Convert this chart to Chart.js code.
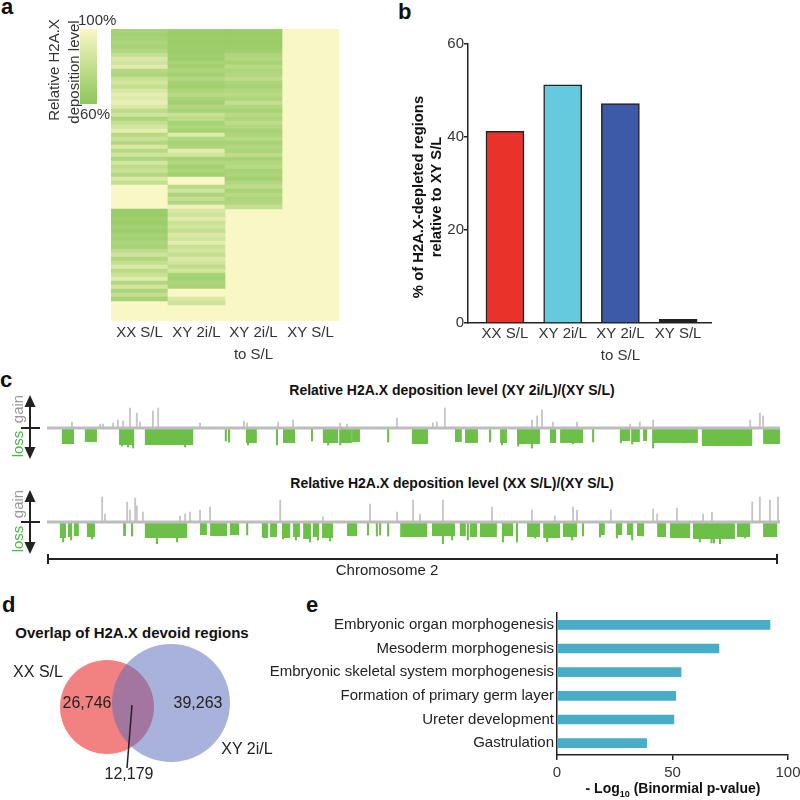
<!DOCTYPE html>
<html lang="en">
<head>
<meta charset="UTF-8">
<title>H2A.X deposition</title>
<script src="https://cdn.jsdelivr.net/npm/chart.js"></script>
<style>
  body { margin: 0; width: 800px; height: 800px; position: relative; overflow: hidden; background: #fff;
         font-family: 'Liberation Sans', Arial, sans-serif; color: #222; }
  .box { position: absolute; }
  .t { position: absolute; white-space: nowrap; line-height: 1; font-size: 15px; }
  .c { transform: translate(-50%, -50%); }
  .l { transform: translateY(-50%); }
  .rot { transform: translate(-50%, -50%) rotate(-90deg); }
  .letter { position: absolute; font-weight: bold; font-size: 22px; line-height: 1; color: #111; }
  .bold { font-weight: bold; font-size: 14px; color: #111; }
</style>
</head>
<body>
  <!-- panel letters -->
  <div class="letter" style="left:1px;top:-4px">a</div>
  <div class="letter" style="left:398px;top:1px">b</div>
  <div class="letter" style="left:0px;top:369px">c</div>
  <div class="letter" style="left:2px;top:594px">d</div>
  <div class="letter" style="left:306px;top:594px">e</div>

  <!-- a: heatmap -->
  <div class="box" style="left:0;top:0;width:400px;height:370px"><canvas id="heatChart"></canvas></div>
  <div class="t l" style="left:78px;top:19px;color:#333">100%</div>
  <div class="t l" style="left:80px;top:113px;color:#333">60%</div>
  <div class="t rot" style="left:53px;top:70px;color:#333">Relative H2A.X</div>
  <div class="t rot" style="left:73px;top:72px;color:#333">deposition level</div>

  <!-- b: bar chart -->
  <div class="box" style="left:400px;top:0;width:400px;height:370px"><canvas id="barChart"></canvas></div>
  <div class="t rot bold" style="left:418px;top:197px;font-size:14.8px">% of H2A.X-depleted regions</div>
  <div class="t rot bold" style="left:436px;top:197px;font-size:14.8px">relative to XY S/L</div>

  <!-- c: tracks -->
  <div class="t c bold" style="left:452px;top:390px">Relative H2A.X deposition level (XY 2i/L)/(XY S/L)</div>
  <div class="t c bold" style="left:452px;top:483px">Relative H2A.X deposition level (XX S/L)/(XY S/L)</div>
  <div class="box" style="left:0;top:400px;width:800px;height:56px"><canvas id="track1"></canvas></div>
  <div class="box" style="left:0;top:494px;width:800px;height:56px"><canvas id="track2"></canvas></div>
  <div class="t rot" style="left:17px;top:409px;color:#999">gain</div>
  <div class="t rot" style="left:17px;top:444px;color:#4db848">loss</div>
  <div class="t rot" style="left:17px;top:504px;color:#999">gain</div>
  <div class="t rot" style="left:17px;top:539px;color:#4db848">loss</div>
  <svg class="box" style="left:0;top:390px" width="50" height="180">
    <g stroke="#222" stroke-width="2" fill="#222">
      <line x1="30" y1="12" x2="30" y2="62"/>
      <line x1="21" y1="38" x2="40" y2="38"/>
      <polygon points="30,5 24.5,17 35.5,17" stroke="none"/>
      <polygon points="30,69 24.5,57 35.5,57" stroke="none"/>
      <line x1="30" y1="107" x2="30" y2="157"/>
      <line x1="21" y1="132" x2="40" y2="132"/>
      <polygon points="30,100 24.5,112 35.5,112" stroke="none"/>
      <polygon points="30,164 24.5,152 35.5,152" stroke="none"/>
    </g>
  </svg>
  <svg class="box" style="left:0;top:550px" width="800" height="20">
    <g stroke="#222" stroke-width="2">
      <line x1="48" y1="9" x2="777" y2="9"/>
      <line x1="48" y1="4" x2="48" y2="14"/>
      <line x1="777" y1="4" x2="777" y2="14"/>
    </g>
  </svg>
  <div class="t c" style="left:387px;top:569px">Chromosome 2</div>

  <!-- d: venn -->
  <div class="t c bold" style="left:132px;top:632px;font-size:15px">Overlap of H2A.X devoid regions</div>
  <div class="box" style="left:0;top:630px;width:300px;height:150px"><canvas id="vennChart"></canvas></div>
  <div id="vennText"></div>
  <svg class="box" style="left:0;top:630px" width="300" height="150">
    <line x1="132" y1="75" x2="127" y2="138" stroke="#222" stroke-width="1.5"/>
  </svg>

  <!-- e: horizontal bars -->
  <div class="box" style="left:200px;top:600px;width:600px;height:200px"><canvas id="goChart"></canvas></div>
  <div class="t c bold" style="left:673px;top:790px">- Log<sub style="font-size:9px">10</sub> (Binormial p-value)</div>

<script>
// ---- data ----
// a: relative H2A.X deposition (%) per 4px row, top to bottom; rows not listed are 100%
var heatColumns = ['XX S/L', 'XY 2i/L', ['XY 2i/L', 'to S/L'], 'XY S/L'];
var heatRowCount = 73;
var heatXXSL = [70, 68, 70, 72, 70, 74, 80, 88, 84, 90, 75, 72, 82, 86, 80, 88, 92, 90, 94, 88,
                78, 84, 72, 80, 86, 92, 76, 82, 74, 88, 76, 84, 72, 86, 78, 82, 74, 88, 80,
                100, 100, 100, 100, 100, 100,
                66, 65, 67, 66, 68, 66, 70, 68, 72, 70,
                78, 84, 74, 80, 88, 76, 82, 90, 74, 86, 72, 80, 70];
var heatXY2iL = [66, 65, 66, 65, 66, 66, 67, 66,
                 70, 68, 72, 68, 74, 70, 68, 72, 76, 70, 68, 74, 70, 82, 78, 70, 72, 68,
                 90, 74, 70, 72, 92, 86, 70, 74, 68, 72, 68, 100, 100,
                 76, 84, 72, 80, 74, 96,
                 88, 84, 90, 82, 86, 80, 88, 84, 92, 82, 86, 80, 88, 84, 78, 86,
                 70, 68, 72, 70, 100, 100, 88, 84];
var heatXY2iLtoSL = [66, 65, 66, 65, 66, 67,
                     72, 74, 70, 76, 72, 74, 78, 72, 70, 74, 76, 72, 80, 74, 70, 76, 72, 78, 74, 70,
                     72, 76, 70, 74, 72, 78, 70, 74, 76, 70, 72, 68, 74, 78, 70, 76, 72, 74, 80];
var heatXYSL = [];

// b: % of H2A.X-depleted regions relative to XY S/L
var barLabels = ['XX S/L', 'XY 2i/L', ['XY 2i/L', 'to S/L'], 'XY S/L'];
var barValues = [41.2, 51.2, 47.2, 0.8];

// c: chromosome 2 tracks (position in Mb, loss depth / gain height in track units)
var chromLength = 182;
var t1LossStart = [3.7, 9.4, 17.9, 24.3, 49.4, 58.6, 68.5, 73.0, 76.2, 90.6, 101.3, 103.8, 112.5, 116.7, 124.9, 127.4, 142.5, 145.5, 148.0, 150.5, 162.6, 177.8];
var t1LossEnd   = [6.7, 12.4, 21.6, 36.3, 52.1, 61.6, 72.3, 75.7, 77.7, 94.6, 103.0, 107.0, 114.2, 122.4, 126.4, 133.1, 144.8, 147.2, 149.0, 161.6, 175.1, 182.0];
var t1LossDepth = [16, 14, 17, 17, 15, 15, 15, 15, 14, 16, 14, 15, 15, 16, 15, 15, 13, 14, 13, 15, 18, 16];
var t1LineX     = [18.6, 20.1, 21.4, 34.3, 44.4, 45.2, 49.9, 57.1, 65.8, 69.8, 72.8, 76.0, 84.7, 110.0, 113.0, 117.0, 120.4, 125.4, 130.6, 135.6, 142.5, 145.3, 150.5, 158.4, 166.4];
var t1LineDepth = [18, 19, 20, 19, 13, 14, 17, 17, 13, 17, 17, 14, 14, 14, 17, 18, 20, 14, 16, 14, 15, 16, 20, 15, 18];
var t1GainX      = [6.2, 13.2, 13.9, 16.4, 17.6, 18.9, 20.6, 22.3, 23.1, 26.3, 27.6, 38.0, 48.9, 49.7, 57.4, 61.1, 72.8, 74.5, 86.9, 95.8, 96.8, 98.8, 120.4, 121.7, 122.9, 125.6, 131.6, 144.8, 147.2, 150.5, 174.6, 177.0, 177.8];
var t1GainHeight = [6, 4, 4, 5, 8, 7, 20, 15, 6, 17, 20, 5, 7, 5, 6, 8, 5, 4, 10, 5, 6, 20, 8, 12, 18, 6, 6, 4, 6, 8, 8, 15, 12];

var t2LossStart = [3.2, 5.2, 6.7, 9.9, 18.9, 24.3, 38.0, 40.5, 45.4, 53.6, 55.4, 58.6, 61.1, 63.6, 66.0, 68.3, 74.5, 87.7, 95.6, 102.5, 105.0, 107.5, 113.2, 119.2, 123.2, 128.1, 137.3, 141.5, 144.0, 146.5, 151.5, 154.7, 160.4, 171.3, 177.8];
var t2LossEnd   = [4.7, 6.2, 7.9, 11.9, 19.6, 34.8, 39.7, 44.7, 47.7, 54.9, 57.1, 60.4, 62.8, 65.3, 67.3, 71.0, 77.0, 94.4, 101.3, 104.0, 106.8, 111.7, 115.7, 122.4, 127.4, 131.6, 138.5, 142.8, 145.3, 148.0, 153.7, 159.7, 170.8, 174.6, 181.3];
var t2LossDepth = [16, 15, 14, 15, 14, 16, 13, 14, 13, 16, 15, 16, 15, 17, 15, 16, 14, 15, 14, 14, 15, 15, 14, 15, 16, 15, 13, 13, 13, 14, 15, 16, 17, 15, 15];
var t2LineX     = [4.0, 6.0, 11.2, 21.1, 27.3, 32.3, 49.7, 53.6, 58.6, 61.8, 65.3, 67.3, 70.3, 79.7, 81.9, 82.7, 84.7, 90.1, 98.3, 100.6, 104.5, 108.8, 113.2, 116.7, 121.2, 124.2, 130.4, 133.1, 137.3, 141.5, 145.3, 148.0, 162.1, 165.0, 165.6, 167.1, 173.3];
var t2LineDepth = [20, 18, 17, 14, 26, 20, 13, 15, 17, 18, 20, 18, 19, 13, 14, 13, 14, 14, 26, 18, 18, 15, 20, 20, 16, 20, 18, 14, 15, 16, 18, 14, 20, 21, 21, 22, 16];
var t2GainX      = [13.7, 14.4, 19.9, 20.6, 21.9, 22.3, 23.8, 33.0, 34.3, 35.5, 38.0, 40.5, 57.9, 68.5, 80.2, 86.9, 90.9, 92.6, 98.3, 110.5, 120.4, 126.1, 130.6, 131.6, 140.0, 150.5, 151.5, 156.4, 162.9, 165.1, 175.1, 177.0, 179.5, 181.5];
var t2GainHeight = [25, 8, 20, 12, 24, 16, 10, 6, 8, 10, 12, 15, 22, 5, 18, 10, 22, 8, 22, 15, 12, 6, 15, 12, 12, 13, 8, 14, 8, 10, 20, 25, 22, 25];

// d: overlap of H2A.X devoid regions
var vennSets = ['XX S/L', 'XY 2i/L'];
var vennOnly = [26746, 39263];
var vennShared = 12179;

// e: GO terms
var goTerms = ['Embryonic organ morphogenesis', 'Mesoderm morphogenesis', 'Embryonic skeletal system morphogenesis',
               'Formation of primary germ layer', 'Ureter development', 'Gastrulation'];
var goValues = [92.2, 70.1, 53.7, 51.4, 50.6, 38.8];

// ---- styles / layout ----
var FONT = "'Liberation Sans', Arial, sans-serif";
var GREEN = '#6cbf47';
var barColors = ['#e8322a', '#66cadf', '#3d5aa9', '#222222'];
var vennColors = ['rgba(240,112,112,0.88)', 'rgba(88,108,184,0.52)'];
var vennCenterX = [107, 171], vennCenterY = [77, 73], vennRadius = [47, 59];

Chart.defaults.font.family = FONT;
Chart.defaults.animation = false;
Chart.defaults.events = [];
Chart.defaults.plugins.legend.display = false;
Chart.defaults.plugins.tooltip.enabled = false;

function heatColor(v) {
    var t = Math.max(0, Math.min(1, (100 - v) / 40));
    var lo = [249, 247, 197], hi = [141, 198, 91];
    var c = lo.map(function (a, i) { return Math.round(a + (hi[i] - a) * t); });
    return 'rgb(' + c.join(',') + ')';
}

// ---- a: heatmap ----
var heatCells = [], heatCellColors = [];
[heatXXSL, heatXY2iL, heatXY2iLtoSL, heatXYSL].forEach(function (col, c) {
    col.forEach(function (v, r) {
        heatCells.push({ x: c, y: [r, r + 1] });
        heatCellColors.push(heatColor(v));
    });
});

var colorBar = {
    id: 'colorBar',
    afterDraw: function (chart) {
        var ctx = chart.ctx;
        var g = ctx.createLinearGradient(0, 29, 0, 104);
        g.addColorStop(0, heatColor(100));
        g.addColorStop(1, heatColor(60));
        ctx.save();
        ctx.fillStyle = g;
        ctx.fillRect(80, 29, 17, 75);
        ctx.restore();
    }
};

new Chart(document.getElementById('heatChart'), {
    type: 'bar',
    data: {
        datasets: [
            { data: heatCells, backgroundColor: heatCellColors },
            { data: heatColumns.map(function (_, c) { return { x: c, y: [0, heatRowCount] }; }),
              backgroundColor: heatColor(100) }
        ]
    },
    options: {
        responsive: true, maintainAspectRatio: false,
        layout: { padding: { left: 111, right: 61, top: 29, bottom: 4 } },
        datasets: { bar: { grouped: false, barThickness: 57, borderWidth: 0 } },
        scales: {
            x: {
                type: 'linear', offset: false, min: -0.5, max: 3.5,
                grid: { display: false, drawTicks: false }, border: { display: false },
                afterBuildTicks: function (s) { s.ticks = heatColumns.map(function (_, i) { return { value: i }; }); },
                ticks: { color: '#333', font: { size: 15, lineHeight: 1.45 }, padding: 1, maxRotation: 0, autoSkip: false,
                         callback: function (v) { return heatColumns[v]; } },
                afterFit: function (s) { s.height = 45; s.paddingLeft = 0; s.paddingRight = 0; }
            },
            y: { display: false, min: 0, max: heatRowCount, reverse: true }
        }
    },
    plugins: [colorBar]
});

// ---- b: bar chart ----
new Chart(document.getElementById('barChart'), {
    type: 'bar',
    data: {
        datasets: [{
            data: barValues.map(function (v, i) { return { x: i, y: v }; }),
            backgroundColor: barColors, borderColor: '#222', borderWidth: 1.5, barThickness: 38
        }]
    },
    options: {
        responsive: true, maintainAspectRatio: false,
        layout: { padding: { left: 0, right: 89, top: 44, bottom: 2 } },
        scales: {
            x: {
                type: 'linear', offset: false, min: -0.64, max: 3.57,
                grid: { display: false, drawTicks: false },
                border: { display: true, color: '#222', width: 1.5 },
                afterBuildTicks: function (s) { s.ticks = barLabels.map(function (_, i) { return { value: i }; }); },
                ticks: { color: '#333', font: { size: 15, lineHeight: 1.45 }, padding: 0, maxRotation: 0, autoSkip: false,
                         callback: function (v) { return barLabels[v]; } },
                afterFit: function (s) { s.height = 45; s.paddingLeft = 0; s.paddingRight = 0; }
            },
            y: {
                min: 0, max: 60,
                grid: { display: true, drawOnChartArea: false, drawTicks: true, tickLength: 4, color: '#222', lineWidth: 1.5 },
                border: { display: true, color: '#222', width: 1.5 },
                ticks: { stepSize: 20, color: '#333', font: { size: 15 }, padding: 0 },
                afterFit: function (s) { s.width = 68; }
            }
        }
    }
});

// ---- c: tracks ----
function makeTrack(id, lossStart, lossEnd, lossDepth, lineX, lineDepth, gainX, gainHeight) {
    var blocks = [{ x: 0, y: 0 }];
    lossStart.forEach(function (s, i) {
        blocks.push({ x: s, y: 0 }, { x: s, y: -lossDepth[i] }, { x: lossEnd[i], y: -lossDepth[i] }, { x: lossEnd[i], y: 0 });
    });
    blocks.push({ x: chromLength, y: 0 });
    new Chart(document.getElementById(id), {
        type: 'bar',
        data: {
            datasets: [
                { type: 'line', order: 0, data: [{ x: 0, y: 0 }, { x: chromLength, y: 0 }],
                  borderColor: '#bdbdbd', borderWidth: 3, pointRadius: 0 },
                { type: 'line', order: 2, data: blocks, fill: 'origin', backgroundColor: GREEN,
                  borderColor: 'rgba(0,0,0,0)', borderWidth: 1, pointRadius: 0, tension: 0 },
                { order: 1, data: lineX.map(function (x, i) { return { x: x, y: -lineDepth[i] }; }),
                  backgroundColor: GREEN, barThickness: 1.4, grouped: false },
                { order: 1, data: gainX.map(function (x, i) { return { x: x, y: gainHeight[i] }; }),
                  backgroundColor: '#c6c6c6', barThickness: 1.2, grouped: false }
            ]
        },
        options: {
            responsive: true, maintainAspectRatio: false,
            layout: { padding: { left: 47, right: 20, top: 2, bottom: 6 } },
            scales: {
                x: { type: 'linear', offset: false, min: 0, max: chromLength, display: false },
                y: { min: -22, max: 26, display: false }
            }
        }
    });
}
makeTrack('track1', t1LossStart, t1LossEnd, t1LossDepth, t1LineX, t1LineDepth, t1GainX, t1GainHeight);
makeTrack('track2', t2LossStart, t2LossEnd, t2LossDepth, t2LineX, t2LineDepth, t2GainX, t2GainHeight);

// ---- d: venn ----
new Chart(document.getElementById('vennChart'), {
    type: 'bubble',
    data: {
        datasets: [
            { label: vennSets[1], order: 0, data: [{ x: vennCenterX[1], y: vennCenterY[1], r: vennRadius[1] }],
              backgroundColor: vennColors[1], borderWidth: 0, clip: false },
            { label: vennSets[0], order: 1, data: [{ x: vennCenterX[0], y: vennCenterY[0], r: vennRadius[0] }],
              backgroundColor: vennColors[0], borderWidth: 0, clip: false }
        ]
    },
    options: {
        responsive: true, maintainAspectRatio: false,
        layout: { padding: 0, autoPadding: false },
        scales: {
            x: { min: 0, max: 300, display: false },
            y: { min: 0, max: 150, reverse: true, display: false }
        }
    }
});
var fmt = function (n) { return n.toLocaleString('en-US'); };
document.getElementById('vennText').innerHTML =
    '<div class="t c" style="left:38px;top:672px;font-size:16px">' + vennSets[0] + '</div>' +
    '<div class="t c" style="left:87px;top:703px;font-size:16px">' + fmt(vennOnly[0]) + '</div>' +
    '<div class="t c" style="left:198px;top:703px;font-size:16px">' + fmt(vennOnly[1]) + '</div>' +
    '<div class="t c" style="left:247px;top:749px;font-size:16px">' + vennSets[1] + '</div>' +
    '<div class="t c" style="left:129px;top:774px;font-size:16px">' + fmt(vennShared) + '</div>';

// ---- e: GO terms ----
new Chart(document.getElementById('goChart'), {
    type: 'bar',
    data: {
        labels: goTerms,
        datasets: [{ data: goValues, backgroundColor: '#48adc8', barThickness: 9 }]
    },
    options: {
        indexAxis: 'y',
        responsive: true, maintainAspectRatio: false,
        layout: { padding: { left: 0, right: 12, top: 13, bottom: 15 } },
        scales: {
            x: {
                min: 0, max: 100,
                grid: { display: true, drawOnChartArea: false, drawTicks: true, tickLength: 5, color: '#222', lineWidth: 1.5 },
                border: { display: true, color: '#222', width: 1.5 },
                ticks: { stepSize: 50, color: '#333', font: { size: 15 }, padding: 4 },
                afterFit: function (s) { s.height = 30; s.paddingLeft = 0; s.paddingRight = 0; }
            },
            y: {
                grid: { display: false, drawTicks: false },
                border: { display: true, color: '#222', width: 1.5 },
                ticks: { color: '#222', font: { size: 15 }, padding: 3, autoSkip: false },
                afterFit: function (s) { s.width = 357; }
            }
        }
    }
});
</script>
</body>
</html>
